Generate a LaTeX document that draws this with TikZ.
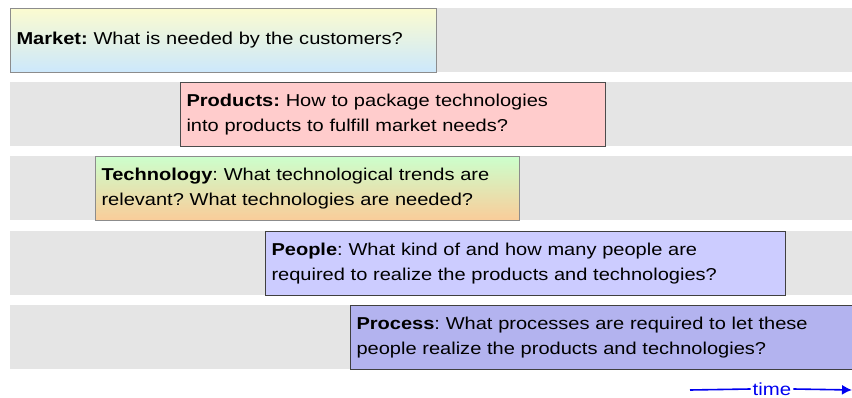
\documentclass[tikz,border=0pt]{standalone}
\usepackage{fontspec}
\setmainfont[FakeStretch=1.165]{Liberation Sans}
\usetikzlibrary{arrows.meta}
\frenchspacing
\definecolor{bandgray}{HTML}{E5E5E5}
\definecolor{mktop}{HTML}{FBFBD0}
\definecolor{mkbot}{HTML}{CCE8FC}
\definecolor{prodfill}{HTML}{FFCCCC}
\definecolor{techtop}{HTML}{CCFFCC}
\definecolor{techbot}{HTML}{FACC99}
\definecolor{peoplefill}{HTML}{CCCCFF}
\definecolor{procfill}{HTML}{B3B3EF}
\definecolor{timeblue}{HTML}{0000F0}
\tikzset{
  band/.style={fill=bandgray, draw=none, anchor=north west, minimum height=64pt, inner sep=0pt},
  qbox/.style={anchor=north west, minimum height=64pt, inner xsep=6pt, inner ysep=0pt, align=left,
    line width=1pt, font=\fontsize{17.2}{25}\selectfont},
}
\begin{document}
\begin{tikzpicture}[x=1pt,y=-1pt]
\useasboundingbox (0,0) rectangle (852,398);
% bands
\node[band, minimum width=842pt] (b1) at (10,8) {};
\node[band, minimum width=842pt] (b2) at (10,82) {};
\node[band, minimum width=842pt] (b3) at (10,156) {};
\node[band, minimum width=842pt] (b4) at (10,231) {};
\node[band, minimum width=842pt] (b5) at (10,305) {};
% boxes
\node[qbox, draw=black!45, top color=mktop, bottom color=mkbot, minimum width=426pt, text width=414pt] (market) at (10,8)
  {\textbf{Market:} What is needed by the customers?};
\node[qbox, draw=black!70, fill=prodfill, minimum width=425pt, text width=413pt] (products) at (180,82)
  {\textbf{Products:} How to package technologies\\into products to fulfill market needs?};
\node[qbox, draw=black!45, top color=techtop, bottom color=techbot, minimum width=424pt, text width=412pt] (technology) at (95,156)
  {\textbf{Technology}: What technological trends are\\relevant? What technologies are needed?};
\node[qbox, draw=black!75, fill=peoplefill, minimum width=520pt, text width=508pt] (people) at (265,231)
  {\textbf{People}: What kind of and how many people are\\required to realize the products and technologies?};
\node[qbox, draw=black!75, fill=procfill, minimum width=503pt, text width=491pt] (process) at (350,305)
  {\textbf{Process}: What processes are required to let these\\people realize the products and technologies?};
% time arrow
\coordinate (tstart) at (690,390);
\coordinate (tend) at (852,390);
\node[font=\fontsize{17.5}{20}\selectfont, text=timeblue, inner sep=2pt] (time) at (772,389) {time};
\draw[timeblue, line width=1.6pt] (tstart) -- (time.west);
\draw[timeblue, line width=1.6pt, -{Latex[length=10pt,width=10pt]}] (time.east) -- (tend);
\end{tikzpicture}
\end{document}
